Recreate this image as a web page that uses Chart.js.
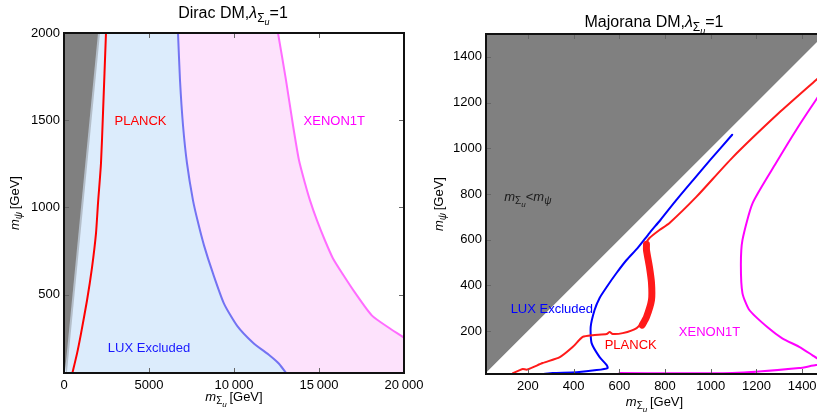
<!DOCTYPE html>
<html>
<head>
<meta charset="utf-8">
<script src="https://cdn.jsdelivr.net/npm/chart.js@4/dist/chart.umd.min.js"></script>
<style>
html,body{margin:0;padding:0;background:#fff;overflow:hidden;width:817px;height:419px;position:relative}
#diracChart{position:absolute;left:0;top:0;width:440px;height:419px}
#majoranaChart{position:absolute;left:410px;top:0;width:430px;height:419px}
</style>
</head>
<body>
<canvas id="diracChart" width="440" height="419"></canvas>
<canvas id="majoranaChart" width="430" height="419"></canvas>
<script>
// --- Dirac DM panel: x = m_Σu [GeV], y = m_ψ [GeV] ---
const diracXRange = [0, 20000];
const diracYRange = [50, 2000];
const diracXTicks = [0, 5000, 10000, 15000, 20000];
const diracYTicks = [500, 1000, 1500, 2000];
const diracPlanck = [[470,40],[765,161],[1000,276],[1353,466],[1647,655],[1882,851],[2000,1023],[2176,1253],[2294,1540],[2470,2000]];
const diracLux = [[6706,2000],[6823,1730],[7000,1471],[7235,1253],[7588,1040],[7882,914],[8235,782],[8764,621],[9411,448],[10176,322],[11118,224],[12118,149],[12647,103],[13176,35]];
const diracXenon = [[12588,2000],[13058,1730],[13470,1471],[13823,1270],[14176,1138],[14470,1040],[14881,925],[15352,810],[15823,707],[16411,615],[17117,511],[18117,379],[19176,305],[20000,253]];
const diracKinematic = [[0,0],[2000,2000]];      // m_Σu = m_ψ
const diracKinematicEdge = [[120,0],[2120,2000]];

// --- Majorana DM panel ---
const majXRange = [17, 1500];
const majYRange = [12, 1500];
const majXTicks = [200, 400, 600, 800, 1000, 1200, 1400];
const majYTicks = [200, 400, 600, 800, 1000, 1200, 1400];
const majPlanck = [[135,16],[165,29],[178,34],[196,31],[265,60],[340,86],[396,130],[440,174],[484,182],[545,187],[558,196],[571,187],[615,191],[676,213],[719,261],[741,336],[741,410],[732,480],[719,555],[719,585],[732,607],[776,642],[820,673],[937,787],[1094,958],[1299,1155],[1461,1299],[1530,1360]];
const majPlanckBand = [[700,226],[719,261],[741,336],[741,410],[732,480],[719,555],[719,580]];
const majLux = [[1094,1059],[998,949],[924,862],[850,774],[780,686],[732,629],[680,563],[632,511],[588,454],[545,393],[514,345],[492,292],[475,218],[479,147],[514,86],[545,51],[549,38],[501,29],[414,20],[309,16],[265,12]];
const majXenonUpper = [[1530,1310],[1461,1212],[1374,1080],[1285,934],[1183,759],[1139,599],[1132,490],[1139,365],[1169,292],[1250,215],[1313,168],[1387,131],[1444,95],[1470,78],[1530,60]];
const majXenonLower = [[601,16],[1094,16],[1387,38],[1461,51],[1530,56]];
const majKinematic = [[0,0],[1600,1600]];

const FONT = '"Liberation Sans", Arial, sans-serif';
const pts = arr => arr.map(([x, y]) => ({x, y}));

// λ_{Σ_u}, m_{Σ_u}, m_ψ pieces: [text, size, italic, baseline shift]
const lamSigma = s => [['λ', s, true, 0], ['Σ', Math.round(s * 0.75), false, s * 0.25], ['u', Math.round(s * 0.58), true, s * 0.45]];
const mSigma = s => [['m', s, true, 0], ['Σ', Math.round(s * 0.75), false, s * 0.25], ['u', Math.round(s * 0.58), true, s * 0.45]];
const mPsi = s => [['m', s, true, 0], ['ψ', Math.round(s * 0.75), true, s * 0.25]];

function drawRich(ctx, parts, x, y, angle, color) {
  ctx.save();
  ctx.translate(x, y);
  if (angle) ctx.rotate(angle);
  ctx.fillStyle = color;
  ctx.textBaseline = 'alphabetic';
  ctx.textAlign = 'left';
  const fontOf = p => (p[2] ? 'italic ' : '') + p[1] + 'px ' + FONT;
  let w = 0;
  parts.forEach(p => { ctx.font = fontOf(p); w += ctx.measureText(p[0]).width; });
  let cx = -w / 2;
  parts.forEach(p => {
    ctx.font = fontOf(p);
    ctx.fillText(p[0], cx, p[3] || 0);
    cx += ctx.measureText(p[0]).width;
  });
  ctx.restore();
}

// frame with inward ticks on all four sides
const framePlugin = {
  id: 'frame',
  afterDatasetsDraw(chart) {
    const {ctx, chartArea: a, scales: {x, y}} = chart;
    ctx.save();
    ctx.strokeStyle = '#666';
    ctx.lineWidth = 1;
    ctx.beginPath();
    x.ticks.forEach(t => {
      const px = Math.round(x.getPixelForValue(t.value)) + 0.5;
      ctx.moveTo(px, a.bottom); ctx.lineTo(px, a.bottom - 5);
      ctx.moveTo(px, a.top); ctx.lineTo(px, a.top + 5);
    });
    y.ticks.forEach(t => {
      const py = Math.round(y.getPixelForValue(t.value)) + 0.5;
      ctx.moveTo(a.left, py); ctx.lineTo(a.left + 5, py);
      ctx.moveTo(a.right, py); ctx.lineTo(a.right - 5, py);
    });
    ctx.stroke();
    ctx.strokeStyle = '#111';
    ctx.lineWidth = 2;
    ctx.strokeRect(a.left, a.top, a.right - a.left, a.bottom - a.top);
    ctx.restore();
  }
};

function labelPlugin(items) {
  return {
    id: 'labels',
    afterDraw(chart) {
      const {ctx, chartArea: a, scales: {x, y}} = chart;
      items.forEach(it => {
        let px, py;
        if (it.at) {
          px = x.getPixelForValue(it.at[0]);
          py = y.getPixelForValue(it.at[1]) + it.parts[0][1] * 0.36;
        } else {
          [px, py] = it.place(a);
        }
        drawRich(ctx, it.parts, px, py, it.angle || 0, it.color || '#000');
      });
    }
  };
}

function lineSet(data, color, width) {
  return {data: pts(data), borderColor: color, borderWidth: width, pointRadius: 0,
          fill: false, tension: 0.2, order: 0, clip: 0, borderJoinStyle: 'round', borderCapStyle: 'round'};
}
function fillSet(data, color, fill, order) {
  return {data: pts(data), borderColor: 'rgba(0,0,0,0)', borderWidth: 0, pointRadius: 0,
          backgroundColor: color, fill: fill, tension: 0, order: order};
}

function axes(xr, yr, xt, yt, yWidth, xHeight, fmt) {
  const tickFont = {family: FONT, size: 13};
  return {
    x: {
      type: 'linear', min: xr[0], max: xr[1],
      grid: {display: false, drawTicks: false}, border: {display: false},
      ticks: {font: tickFont, color: '#000', padding: 5, maxRotation: 0, autoSkip: false, callback: fmt},
      afterBuildTicks: s => { s.ticks = xt.map(v => ({value: v})); },
      afterFit: s => { s.height = xHeight; }
    },
    y: {
      type: 'linear', min: yr[0], max: yr[1],
      grid: {display: false, drawTicks: false}, border: {display: false},
      ticks: {font: tickFont, color: '#000', padding: 4, autoSkip: false, callback: v => String(v)},
      afterBuildTicks: s => { s.ticks = yt.map(v => ({value: v})); },
      afterFit: s => { s.width = yWidth; }
    }
  };
}

const groupDigits = v => v >= 10000 ? String(v).replace(/(\d)(?=(\d{3})+$)/g, '$1\u2009') : String(v);

const baseOptions = {
  responsive: false, animation: false, events: [],
  plugins: {legend: {display: false}, tooltip: {enabled: false}}
};

new Chart(document.getElementById('diracChart'), {
  type: 'line',
  data: {
    datasets: [
      lineSet(diracPlanck, '#ff0000', 2),
      lineSet(diracLux, '#7373f2', 2),
      lineSet(diracXenon, '#ff6cff', 2),
      fillSet(diracKinematic, '#808080', 'end', 1),
      fillSet(diracKinematicEdge, '#b4bec9', 'end', 2),
      fillSet([[0, 2000]].concat(diracLux), '#dcecfc', 'start', 3),
      fillSet([[0, 2000]].concat(diracXenon), '#fde2fc', 'start', 4)
    ]
  },
  options: Object.assign({}, baseOptions, {
    layout: {padding: {top: 33, right: 36, left: 0, bottom: 0}},
    scales: axes(diracXRange, diracYRange, diracXTicks, diracYTicks, 64, 46, groupDigits)
  }),
  plugins: [framePlugin, labelPlugin([
    {parts: [['Dirac DM,', 16, false, 0]].concat(lamSigma(16), [['=1', 16, false, 0]]),
     place: a => [(a.left + a.right) / 2 - 1, a.top - 15]},
    {parts: mSigma(13).concat([['\u2009[GeV]', 13, false, 0]]),
     place: a => [(a.left + a.right) / 2, a.bottom + 28]},
    {parts: mPsi(13).concat([['\u2009[GeV]', 13, false, 0]]),
     place: a => [19, (a.top + a.bottom) / 2], angle: -Math.PI / 2},
    {parts: [['PLANCK', 13, false, 0]], at: [4500, 1500], color: '#ff0000'},
    {parts: [['XENON1T', 13, false, 0]], at: [15900, 1500], color: '#ff00ff'},
    {parts: [['LUX Excluded', 13, false, 0]], at: [5000, 195], color: '#1a1aff'}
  ])]
});

new Chart(document.getElementById('majoranaChart'), {
  type: 'line',
  data: {
    datasets: [
      lineSet(majPlanck, '#ff1a1a', 2),
      lineSet(majPlanckBand, '#ff1a1a', 7),
      lineSet(majLux, '#0000ff', 2),
      lineSet(majXenonUpper, '#ff00ff', 2),
      lineSet(majXenonLower, '#ff00ff', 2),
      fillSet(majKinematic, '#808080', 'end', 1)
    ]
  },
  options: Object.assign({}, baseOptions, {
    layout: {padding: {top: 34, right: 15, left: 0, bottom: 0}},
    scales: axes(majXRange, majYRange, majXTicks, majYTicks, 76, 45, v => String(v))
  }),
  plugins: [framePlugin, labelPlugin([
    {parts: [['Majorana DM,', 16, false, 0]].concat(lamSigma(16), [['=1', 16, false, 0]]),
     place: a => [(a.left + a.right) / 2 - 1.5, a.top - 7]},
    {parts: mSigma(13).concat([['\u2009[GeV]', 13, false, 0]]),
     place: a => [(a.left + a.right) / 2 - 1, a.bottom + 32]},
    {parts: mPsi(13).concat([['\u2009[GeV]', 13, false, 0]]),
     place: a => [33, (a.top + a.bottom) / 2], angle: -Math.PI / 2},
    {parts: mSigma(13).concat([['<', 13, false, 0]], mPsi(13)), at: [200, 790], color: '#1a1a1a'},
    {parts: [['LUX Excluded', 13, false, 0]], at: [305, 300], color: '#0000ff'},
    {parts: [['PLANCK', 13, false, 0]], at: [650, 140], color: '#ff0000'},
    {parts: [['XENON1T', 13, false, 0]], at: [995, 200], color: '#ff00ff'}
  ])]
});
</script>
</body>
</html>
